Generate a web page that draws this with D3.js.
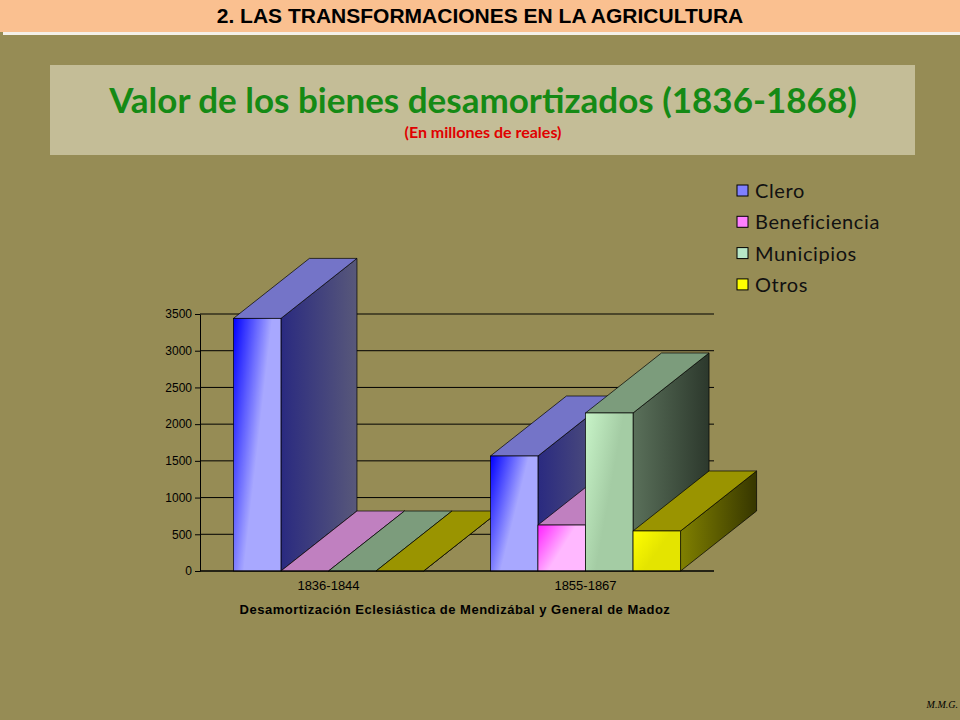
<!DOCTYPE html><html><head><meta charset="utf-8"><script src="https://cdn.jsdelivr.net/npm/d3@7"></script>
<style>body{margin:0;background:#968c55}</style></head><body><svg id="c" width="960" height="720"></svg>
<script>
const categories=["1836-1844","1855-1867"];
const seriesNames=["Clero","Beneficiencia","Municipios","Otros"];
const clero=[3440,1566];
const beneficiencia=[0,626];
const municipios=[0,2152];
const otros=[0,545];
const ticks=[0,500,1000,1500,2000,2500,3000,3500];
const values=[clero,beneficiencia,municipios,otros];
const pal=[
 {f1:"#0000ff",f2:"#a8a8ff",s1:"#2a2a80",s2:"#58587a",t:"#7474c8",l:"#8080ff"},
 {f1:"#ff20ff",f2:"#ffb8ff",s1:"#a060a0",s2:"#c890c8",t:"#c080c0",l:"#ff80ff"},
 {f1:"#c8f4c8",f2:"#a4cca4",s1:"#5a705a",s2:"#2c382c",t:"#7c9c7c",l:"#b8e8c8"},
 {f1:"#ffff00",f2:"#e4e400",s1:"#808000",s2:"#363600",t:"#9a9400",l:"#ffff00"}];
const svg=d3.select("#c");
const defs=svg.append("defs");
pal.forEach((p,i)=>{
 let g=defs.append("linearGradient").attr("id","f"+i).attr("x1",0).attr("y1",0).attr("x2",1).attr("y2",0.6);
 g.append("stop").attr("offset",0).attr("stop-color",p.f1);g.append("stop").attr("offset",0.6).attr("stop-color",p.f2);
 let s=defs.append("linearGradient").attr("id","s"+i).attr("x1",0).attr("y1",0).attr("x2",1).attr("y2",0);
 s.append("stop").attr("offset",0).attr("stop-color",p.s1);s.append("stop").attr("offset",1).attr("stop-color",p.s2);
});
svg.append("rect").attr("width",960).attr("height",720).attr("fill","#968c55");
svg.append("rect").attr("width",960).attr("height",32).attr("fill","#fac090");
svg.append("rect").attr("x",3).attr("y",32).attr("width",957).attr("height",3).attr("fill","#f4f0e8");
svg.append("text").attr("x",480).attr("y",23).attr("text-anchor","middle").attr("font-family","Liberation Sans Narrow, Arial").attr("font-weight","bold").attr("font-size",21).text("2. LAS TRANSFORMACIONES  EN LA AGRICULTURA");
svg.append("rect").attr("x",50).attr("y",65).attr("width",865).attr("height",90).attr("fill","#c4bd97");
svg.append("text").attr("x",483).attr("y",113).attr("text-anchor","middle").attr("font-family","Lato, sans-serif").attr("font-weight","bold").attr("font-size",35).attr("fill","#158a15").text("Valor de los bienes desamortizados (1836-1868)");
svg.append("text").attr("x",483).attr("y",138).attr("text-anchor","middle").attr("font-family","Lato, sans-serif").attr("font-weight","bold").attr("font-size",16).attr("fill","#e00000").text("(En millones de reales)");
const y=d3.scaleLinear().domain([0,3500]).range([571,314]);
const gx=d3.scaleBand().domain(categories).range([200,714]).paddingInner(0.26).paddingOuter(0.13);
const dx=76,dy=-60;
const grid=svg.append("g");
ticks.forEach(t=>grid.append("line").attr("x1",200).attr("x2",714).attr("y1",y(t)).attr("y2",y(t)).attr("stroke","#000").attr("stroke-width",1));
const ax=svg.append("g").attr("transform","translate(200,0)").call(d3.axisLeft(y).tickValues(ticks).tickFormat(d3.format("d")).tickSize(5).tickSizeOuter(0));
ax.select(".domain").attr("stroke","#000");
ax.selectAll("text").attr("font-family","Liberation Sans Narrow, Arial").attr("font-size",12).attr("fill","#000");
const bars=svg.append("g");
categories.forEach((c,ci)=>{
 const w=gx.bandwidth()/4;
 seriesNames.forEach((s,si)=>{
  const x0=gx(c)+si*w,x1=x0+w,yt=y(values[si][ci]),yb=y(0);
  bars.append("path").attr("d",`M${x1},${yt}L${x1+dx},${yt+dy}L${x1+dx},${yb+dy}L${x1},${yb}Z`).attr("fill",`url(#s${si})`).attr("stroke","#000").attr("stroke-width",0.7);
  bars.append("path").attr("d",`M${x0},${yt}L${x0+dx},${yt+dy}L${x1+dx},${yt+dy}L${x1},${yt}Z`).attr("fill",pal[si].t).attr("stroke","#000").attr("stroke-width",0.7);
  if(yb-yt>0.5) bars.append("rect").attr("x",x0).attr("y",yt).attr("width",w).attr("height",yb-yt).attr("fill",`url(#f${si})`).attr("stroke","#000").attr("stroke-width",0.7);
 });
});
svg.append("line").attr("x1",200).attr("x2",714).attr("y1",571).attr("y2",571).attr("stroke","#000");
categories.forEach(c=>svg.append("text").attr("x",gx(c)+gx.bandwidth()/2).attr("y",590).attr("text-anchor","middle").attr("font-family","Liberation Sans Narrow, Arial").attr("font-size",13).text(c));
svg.append("text").attr("x",455).attr("y",614).attr("text-anchor","middle").attr("font-family","Liberation Sans, Arial").attr("font-weight","bold").attr("font-size",13).attr("letter-spacing",0.5).text("Desamortización Eclesiástica de Mendizábal y General de Madoz");
const lg=svg.append("g");
seriesNames.forEach((s,i)=>{
 const yy=191+i*31.3;
 lg.append("rect").attr("x",737).attr("y",yy-6).attr("width",11).attr("height",11).attr("fill",pal[i].l).attr("stroke","#000");
 lg.append("text").attr("x",755).attr("y",yy+7).attr("font-family","Lato, sans-serif").attr("font-size",20).attr("letter-spacing",0.6).attr("fill","#111").text(s);
});
svg.append("text").attr("x",958).attr("y",708).attr("text-anchor","end").attr("font-family","Liberation Serif").attr("font-style","italic").attr("font-size",10).text("M.M.G.");
</script></body></html>
